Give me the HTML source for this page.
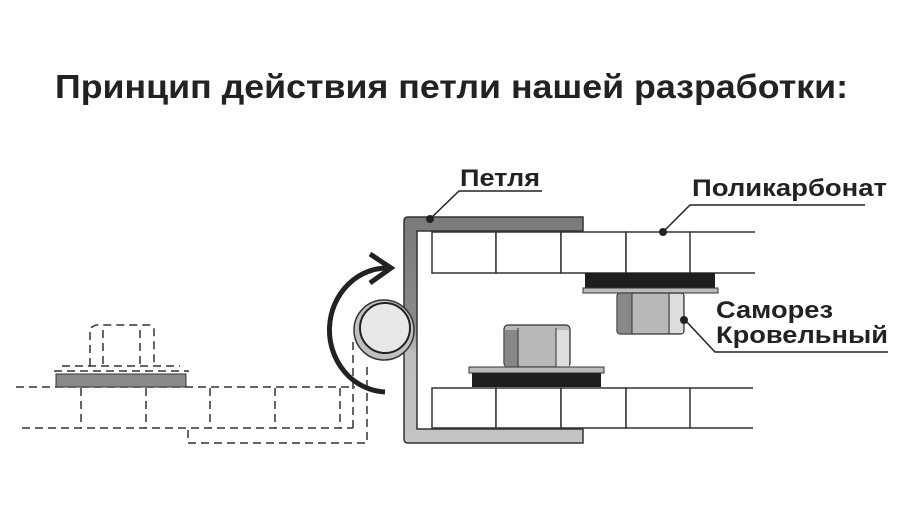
<!DOCTYPE html>
<html><head><meta charset="utf-8"><style>
html,body{margin:0;padding:0;background:#fff;width:900px;height:510px;overflow:hidden}
svg{display:block}
text{font-family:"Liberation Sans",sans-serif;font-weight:bold;fill:#222}
</style></head><body>
<svg width="900" height="510" viewBox="0 0 900 510">
<defs>
<linearGradient id="br" x1="0" y1="0" x2="0" y2="1">
<stop offset="0" stop-color="#7a7a7a"/><stop offset="0.45" stop-color="#8a8a8a"/><stop offset="0.6" stop-color="#bdbdbd"/><stop offset="1" stop-color="#c4c4c4"/>
</linearGradient>
</defs>
<text x="55" y="98" font-size="33" textLength="793" lengthAdjust="spacingAndGlyphs">Принцип действия петли нашей разработки:</text>

<!-- dashed left part -->
<g fill="none" stroke="#333" stroke-width="1.5" stroke-dasharray="8,5">
<line x1="16" y1="387" x2="355" y2="387"/>
<line x1="22" y1="428" x2="353" y2="428"/>
<line x1="81" y1="388" x2="81" y2="428"/>
<line x1="146" y1="388" x2="146" y2="428"/>
<line x1="210" y1="388" x2="210" y2="428"/>
<line x1="275" y1="388" x2="275" y2="428"/>
<line x1="340" y1="388" x2="340" y2="428"/>
<polyline points="353,342 353,428"/>
<polyline points="188,430 188,443 367,443 367,362"/>
<polyline points="90,366 90,328 96,325 150,325 154,328 154,366"/>
<line x1="103" y1="330" x2="103" y2="366"/>
<line x1="140" y1="330" x2="140" y2="366"/>
<line x1="62" y1="366" x2="180" y2="366"/>
<polyline points="55,372 55,371 188,371 188,372"/>
</g>
<rect x="56" y="374" width="130" height="13" fill="#8a8a8a" stroke="#333" stroke-width="1"/>

<!-- rotation arrow -->
<path d="M385,392 A58,62 0 0 1 390,268" fill="none" stroke="#222" stroke-width="5"/>
<polyline points="370,254 391,268 370,283" fill="none" stroke="#222" stroke-width="5"/>

<!-- bracket -->
<path d="M408,217 L583,217 L583,231 L417,231 L417,429 L583,429 L583,443 L408,443 Q404,443 404,439 L404,221 Q404,217 408,217 Z" fill="url(#br)" stroke="#333" stroke-width="1.5"/>

<!-- hinge circle -->
<circle cx="384" cy="330" r="30" fill="#c0c0c0" stroke="#333" stroke-width="1.5"/>
<circle cx="385" cy="328" r="25" fill="#e8e8e8" stroke="#222" stroke-width="2"/>

<!-- panels -->
<g fill="#fff" stroke="#333" stroke-width="1.5">
<rect x="432" y="232" width="64" height="41"/><rect x="496" y="232" width="65" height="41"/><rect x="561" y="232" width="65" height="41"/><rect x="626" y="232" width="64" height="41"/>
<rect x="432" y="388" width="64" height="40"/><rect x="496" y="388" width="65" height="40"/><rect x="561" y="388" width="65" height="40"/><rect x="626" y="388" width="64" height="40"/>
</g>
<g stroke="#333" stroke-width="1.5">
<line x1="690" y1="232" x2="755" y2="232"/><line x1="690" y1="273" x2="755" y2="273"/>
<line x1="690" y1="388" x2="753" y2="388"/><line x1="690" y1="428" x2="753" y2="428"/>
</g>

<!-- upper screw -->
<rect x="585" y="273" width="130" height="15" fill="#1e1e1e"/>
<rect x="583" y="288" width="135" height="5" fill="#bbb" stroke="#333" stroke-width="1"/>
<rect x="617" y="293" width="67" height="41" rx="3" fill="#b8b8b8" stroke="#333" stroke-width="1.2"/>
<rect x="618" y="294" width="14" height="39" fill="#888"/>
<rect x="670" y="294" width="13" height="39" fill="#ddd"/>
<line x1="632" y1="293" x2="632" y2="334" stroke="#333"/><line x1="669" y1="293" x2="669" y2="334" stroke="#333"/>

<!-- lower screw -->
<rect x="504" y="325" width="66" height="42" rx="4" fill="#b8b8b8" stroke="#333" stroke-width="1.2"/>
<rect x="505" y="330" width="13" height="37" fill="#888"/>
<rect x="556" y="330" width="13" height="37" fill="#ddd"/>
<line x1="518" y1="328" x2="518" y2="367" stroke="#333"/><line x1="556" y1="328" x2="556" y2="367" stroke="#333"/>
<rect x="469" y="367" width="135" height="6" fill="#bbb" stroke="#333" stroke-width="1"/>
<rect x="472" y="373" width="129" height="14" fill="#1e1e1e"/>

<!-- labels -->
<g stroke="#222" stroke-width="1.5" fill="none">
<polyline points="430,219 459,191 542,191"/>
<polyline points="663,232 690,205 865,205"/>
<polyline points="685,320 715,352 888,352"/>
</g>
<circle cx="430" cy="219" r="4" fill="#222"/>
<circle cx="663" cy="232" r="4" fill="#222"/>
<circle cx="684" cy="320" r="4" fill="#222"/>
<text x="460" y="186" font-size="24" textLength="80" lengthAdjust="spacingAndGlyphs">Петля</text>
<text x="692" y="196" font-size="24" textLength="195" lengthAdjust="spacingAndGlyphs">Поликарбонат</text>
<text x="716" y="318" font-size="24" textLength="117" lengthAdjust="spacingAndGlyphs">Саморез</text>
<text x="716" y="343" font-size="24" textLength="172" lengthAdjust="spacingAndGlyphs">Кровельный</text>
</svg>
</body></html>
